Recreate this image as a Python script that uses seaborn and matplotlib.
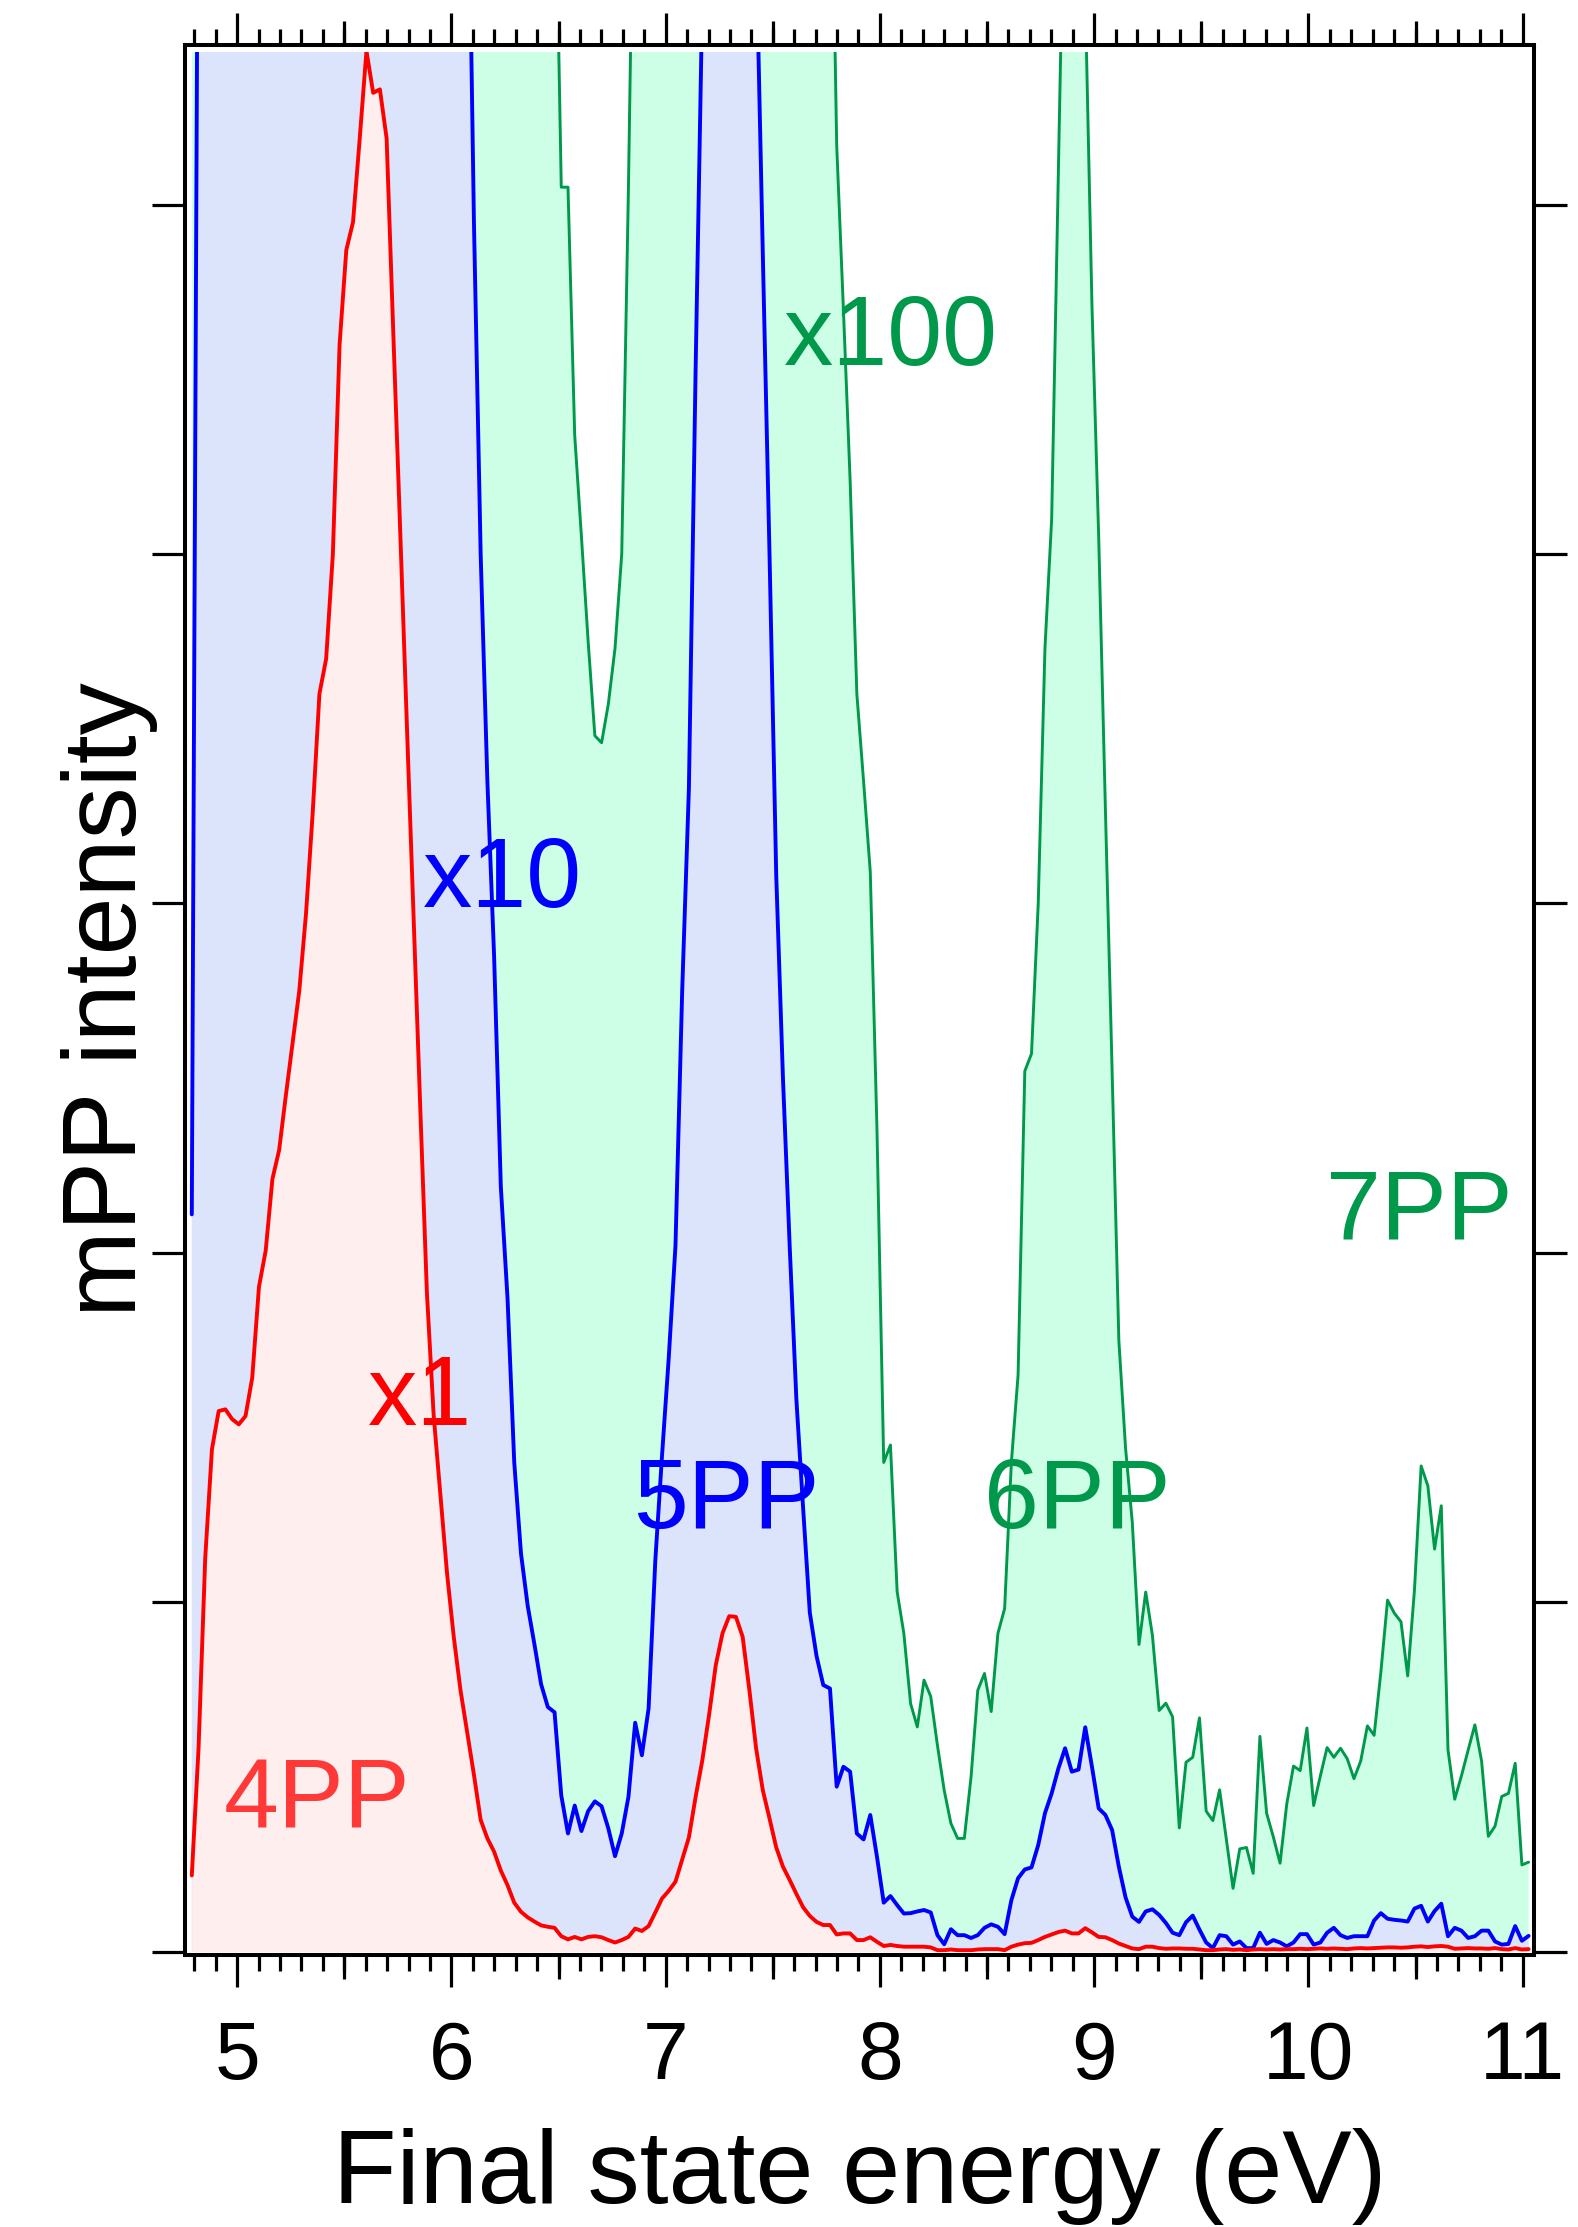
import numpy as np
import matplotlib
matplotlib.use("Agg")
import matplotlib.pyplot as plt
from matplotlib.patches import Rectangle
from matplotlib.ticker import MultipleLocator, FixedLocator, NullLocator, NullFormatter
import seaborn as sns

# ==========================================
# Data: three scaled mPP spectra on one energy grid
# (200 channels between 4.788 and 11.028 eV)
# ==========================================
e_start, e_stop, n_channels = 4.788, 11.028, 200

# x1 spectrum (red)
red_x1 = [
    0.218, 0.58, 1.127, 1.438, 1.547, 1.552, 1.524, 1.509, 1.533, 1.643,
    1.903, 2.006, 2.211, 2.294, 2.45, 2.60, 2.75, 2.97, 3.26, 3.60,
    3.70, 4.00, 4.60, 4.87, 4.95, 5.19, 5.44, 5.32, 5.33, 5.19,
    4.63, 4.08, 3.52, 2.97, 2.42, 1.885, 1.536, 1.309, 1.082, 0.900,
    0.748, 0.627, 0.506, 0.377, 0.324, 0.286, 0.232, 0.190, 0.140, 0.114,
    0.098, 0.086, 0.075, 0.071, 0.068, 0.044, 0.035, 0.042, 0.035, 0.042,
    0.044, 0.041, 0.033, 0.026, 0.033, 0.042, 0.066, 0.059, 0.073, 0.112,
    0.152, 0.174, 0.200, 0.264, 0.327, 0.443, 0.548, 0.677, 0.820, 0.911,
    0.960, 0.958, 0.901, 0.749, 0.582, 0.462, 0.381, 0.298, 0.243, 0.205,
    0.165, 0.127, 0.102, 0.085, 0.076, 0.076, 0.049, 0.052, 0.052, 0.033,
    0.033, 0.041, 0.028, 0.016, 0.019, 0.016, 0.014, 0.014, 0.014, 0.014,
    0.012, 0.004, 0.004, 0.006, 0.004, 0.004, 0.004, 0.006, 0.007, 0.007,
    0.007, 0.004, 0.014, 0.020, 0.024, 0.025, 0.033, 0.042, 0.049, 0.056,
    0.060, 0.052, 0.052, 0.067, 0.055, 0.042, 0.041, 0.033, 0.023, 0.016,
    0.009, 0.007, 0.014, 0.014, 0.010, 0.008, 0.009, 0.009, 0.008, 0.008,
    0.006, 0.004, 0.004, 0.006, 0.007, 0.005, 0.006, 0.004, 0.006, 0.007,
    0.006, 0.007, 0.006, 0.007, 0.007, 0.008, 0.007, 0.008, 0.009, 0.008,
    0.009, 0.008, 0.007, 0.009, 0.010, 0.009, 0.010, 0.011, 0.012, 0.012,
    0.011, 0.012, 0.014, 0.015, 0.013, 0.015, 0.016, 0.014, 0.008, 0.009,
    0.010, 0.009, 0.009, 0.008, 0.010, 0.007, 0.006, 0.010, 0.006, 0.007,
]

# x10 spectrum (blue); values above the frame are rough estimates
blue_x10 = [
    2.11, 6.4, 11, 14, 15, 15, 15, 15, 15, 16,
    19, 20, 22, 23, 24, 26, 27, 30, 33, 36,
    37, 40, 46, 49, 50, 52, 54, 53, 53, 52,
    46, 41, 35, 30, 24, 19, 15, 13, 11, 9,
    7.5, 6.2, 4.95, 4.0, 3.35, 2.85, 2.19, 1.87, 1.40, 1.14,
    0.99, 0.88, 0.765, 0.70, 0.685, 0.447, 0.338, 0.418, 0.345, 0.402,
    0.430, 0.416, 0.353, 0.273, 0.338, 0.443, 0.655, 0.562, 0.696, 1.12,
    1.42, 1.70, 2.02, 2.75, 3.33, 4.53, 5.6, 12, 35, 80,
    96, 96, 80, 40, 5.75, 4.86, 4.00, 3.08, 2.50, 2.02,
    1.58, 1.27, 0.97, 0.846, 0.763, 0.753, 0.472, 0.529, 0.515, 0.338,
    0.321, 0.391, 0.271, 0.140, 0.159, 0.133, 0.109, 0.110, 0.115, 0.119,
    0.112, 0.047, 0.021, 0.064, 0.047, 0.047, 0.039, 0.047, 0.068, 0.078,
    0.071, 0.050, 0.147, 0.210, 0.235, 0.241, 0.305, 0.396, 0.453, 0.524,
    0.582, 0.515, 0.521, 0.642, 0.529, 0.410, 0.391, 0.348, 0.243, 0.155,
    0.100, 0.085, 0.115, 0.121, 0.105, 0.082, 0.054, 0.047, 0.084, 0.103,
    0.063, 0.026, 0.010, 0.047, 0.044, 0.020, 0.029, 0.010, 0.010, 0.054,
    0.022, 0.033, 0.026, 0.015, 0.026, 0.050, 0.050, 0.020, 0.026, 0.054,
    0.068, 0.047, 0.039, 0.044, 0.044, 0.044, 0.089, 0.110, 0.094, 0.091,
    0.089, 0.086, 0.123, 0.131, 0.086, 0.116, 0.137, 0.044, 0.068, 0.060,
    0.039, 0.044, 0.060, 0.060, 0.029, 0.020, 0.022, 0.073, 0.031, 0.045,
]

# x100 spectrum (green); values above the frame are rough estimates
green_x100 = [
    21, 58, 110, 140, 150, 150, 150, 150, 150, 160,
    190, 200, 220, 230, 240, 260, 270, 300, 330, 360,
    370, 400, 460, 490, 500, 520, 540, 530, 530, 520,
    460, 410, 350, 300, 240, 190, 150, 130, 110, 90,
    75, 62, 50, 40, 34, 29, 22, 19, 14, 11.4,
    9.9, 8.8, 7.7, 7.0, 6.1, 5.05, 5.05, 4.34, 4.05, 3.75,
    3.48, 3.46, 3.57, 3.73, 4.00, 5.05, 6.3, 8, 10, 14,
    17, 20, 24, 30, 38, 50, 70, 150, 400, 800,
    960, 960, 850, 600, 400, 300, 220, 150, 100, 70,
    50, 35, 22, 14, 9, 6.3, 5.17, 4.70, 4.21, 3.60,
    3.35, 3.09, 2.35, 1.40, 1.45, 1.03, 0.91, 0.71, 0.643, 0.777,
    0.730, 0.59, 0.462, 0.367, 0.324, 0.324, 0.50, 0.748, 0.796, 0.687,
    0.911, 0.982, 1.40, 1.65, 2.52, 2.57, 3.00, 3.73, 4.10, 5.09,
    6.1, 6.5, 6.3, 5.6, 4.71, 4.05, 3.27, 2.52, 1.75, 1.441,
    1.229, 0.879, 1.029, 0.905, 0.690, 0.711, 0.672, 0.354, 0.542, 0.556,
    0.669, 0.402, 0.375, 0.463, 0.322, 0.181, 0.294, 0.298, 0.224, 0.616,
    0.396, 0.328, 0.253, 0.423, 0.531, 0.518, 0.640, 0.418, 0.503, 0.584,
    0.556, 0.582, 0.552, 0.495, 0.545, 0.646, 0.619, 0.799, 1.006, 0.969,
    0.944, 0.789, 1.033, 1.390, 1.333, 1.152, 1.276, 0.577, 0.436, 0.503,
    0.577, 0.649, 0.545, 0.330, 0.359, 0.444, 0.453, 0.539, 0.248, 0.256,
]

energy = np.linspace(e_start, e_stop, n_channels)

# ==========================================
# Style
# ==========================================
sns.set_theme(style="ticks", rc={
    "axes.edgecolor": "black", "xtick.color": "black", "ytick.color": "black",
    "text.color": "black", "axes.labelcolor": "black",
})
plt.rcParams["font.family"] = ["Liberation Sans", "DejaVu Sans"]

RED, BLUE, GREEN = "#FF0000", "#0000FF", "#00994C"
traces = [
    (green_x100, GREEN, "#CCFFE5", 2.1),
    (blue_x10, BLUE, "#DCE4FC", 2.8),
    (red_x1, RED, "#FFEEEE", 2.8),
]

X_LO, X_HI = 4.756, 11.053
Y_LO, Y_HI = -0.010, 5.457
Y_CLIP = 5.437

fig = plt.figure(figsize=(15.78, 22.27), dpi=100)
ax = fig.add_axes([0.1172, 0.1221, 0.8549, 0.8577])

for vals, line_c, fill_c, lw in traces:
    ax.fill_between(energy, 0, vals, color=fill_c, linewidth=0, zorder=1)
for vals, line_c, fill_c, lw in traces:
    sns.lineplot(x=energy, y=vals, color=line_c, linewidth=lw,
                 estimator=None, sort=False, ax=ax, zorder=3)

ax.set_xlim(X_LO, X_HI)
ax.set_ylim(Y_LO, Y_HI)

# data area sits a little inside the frame at the top
clip = Rectangle((X_LO, Y_LO), X_HI - X_LO, Y_CLIP - Y_LO, transform=ax.transData)
for art in list(ax.lines) + list(ax.collections):
    art.set_clip_path(clip)

# ==========================================
# Labels inside the plot
# ==========================================
ax.text(7.553, 4.541, "x100", color=GREEN, fontsize=71)
ax.text(5.869, 2.990, "x10", color=BLUE, fontsize=71)
ax.text(5.612, 1.506, "x1", color=RED, fontsize=71)
ax.text(4.939, 0.355, "4PP", color="#FF3838", fontsize=71)
ax.text(6.846, 1.211, "5PP", color=BLUE, fontsize=71)
ax.text(8.487, 1.212, "6PP", color=GREEN, fontsize=71)
ax.text(10.082, 2.042, "7PP", color=GREEN, fontsize=71)

# ==========================================
# Frame, ticks, axis labels
# ==========================================
for sp in ax.spines.values():
    sp.set_linewidth(2.9)
    sp.set_visible(True)

ax.xaxis.set_major_locator(MultipleLocator(1))
ax.xaxis.set_minor_locator(MultipleLocator(0.1))
ax.yaxis.set_major_locator(MultipleLocator(1))
ax.yaxis.set_minor_locator(NullLocator())

ax.tick_params(axis="x", which="major", direction="out", length=23, width=2.3,
               top=True, bottom=True, labeltop=False, labelsize=59, pad=24)
ax.tick_params(axis="x", which="minor", direction="out", length=11.5, width=2.3,
               top=True, bottom=True)
ax.tick_params(axis="y", which="major", direction="out", length=23.5, width=2.3,
               left=True, right=True, labelleft=False, labelright=False)

# half-eV ticks, a bit longer than the 0.1 eV ones
for side in ("top", "bottom"):
    sec = ax.secondary_xaxis(side)
    sec.xaxis.set_major_locator(FixedLocator(np.arange(4.5, 11.5, 1.0)))
    sec.xaxis.set_minor_locator(NullLocator())
    sec.xaxis.set_major_formatter(NullFormatter())
    sec.tick_params(axis="x", which="major", direction="out", length=17, width=2.3)
    for sp in sec.spines.values():
        sp.set_visible(False)

ax.set_xlabel("Final state energy (eV)", fontsize=75)
ax.xaxis.set_label_coords(0.5, -0.0905)
ax.set_ylabel("mPP intensity", fontsize=75)
ax.yaxis.set_label_coords(-0.020, 0.5)

fig.savefig("out.png", dpi=100)
